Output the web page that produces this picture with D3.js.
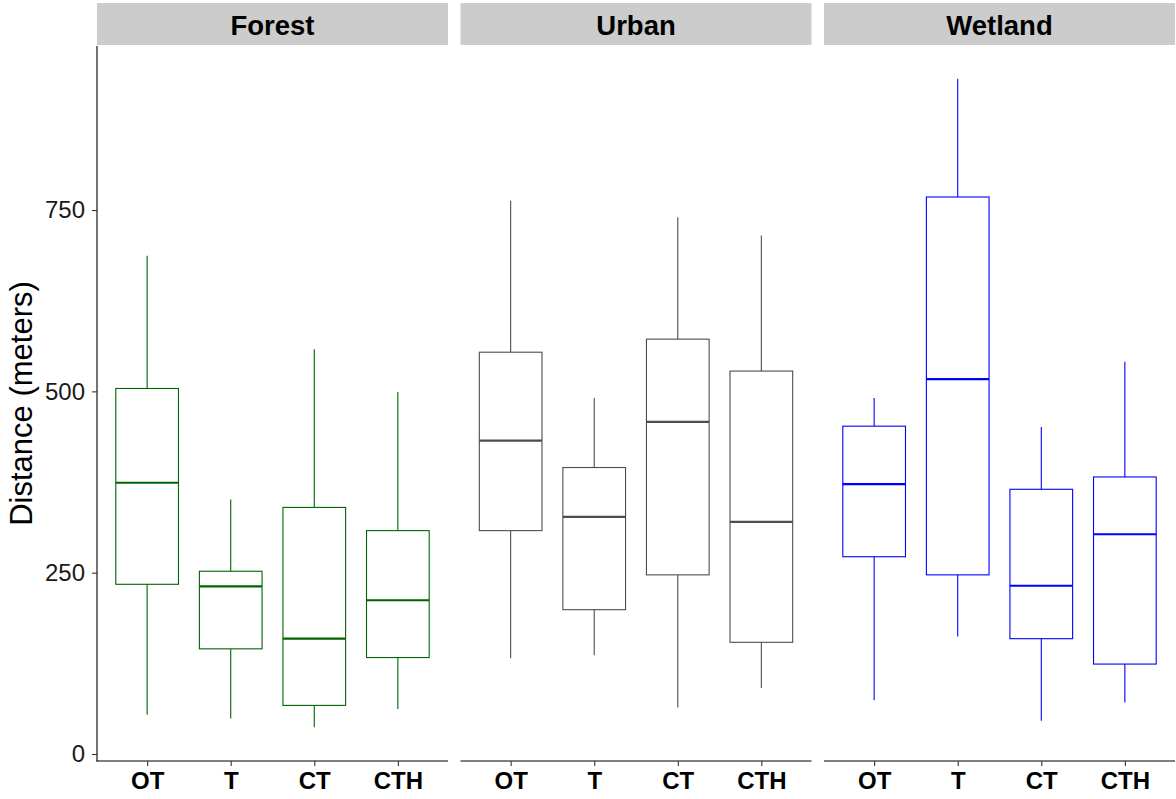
<!DOCTYPE html>
<html>
<head>
<meta charset="utf-8">
<script src="https://cdn.jsdelivr.net/npm/d3@7"></script>
<style>
  html, body { margin: 0; padding: 0; background: #ffffff; }
  svg { display: block; font-family: "Liberation Sans", Arial, sans-serif; }
</style>
</head>
<body>
<svg id="chart" width="1176" height="799"></svg>
<script>
// ---- data ----
const facets = ["Forest", "Urban", "Wetland"];
const categories = ["OT", "T", "CT", "CTH"];
const facetColors = ["#006400", "#4D4D4D", "#0000FF"];
const yTicks = [0, 250, 500, 750];
// per facet, per category (OT, T, CT, CTH)
const whiskerLow  = [[54, 49, 37, 62],   [132, 136, 64, 91],  [74, 162, 46, 71]];
const q1          = [[234, 145, 67, 133], [308, 199, 247, 154], [272, 247, 159, 124]];
const medians     = [[374, 231, 159, 212], [432, 327, 458, 320], [372, 517, 232, 303]];
const q3          = [[504, 252, 340, 308], [554, 395, 572, 528], [452, 768, 365, 382]];
const whiskerHigh = [[687, 351, 558, 499], [763, 491, 740, 715], [491, 931, 451, 541]];

// ---- layout ----
const svg = d3.select("#chart");
const panelLeft = 97, panelW = 351, gap = 12.5;
const stripTop = 3, stripBottom = 45;
const panelTop = 46, panelBottom = 761;

const y = d3.scaleLinear().domain([-9.65, 976.2]).range([panelBottom, panelTop]);
const facetX = d3.scaleBand().domain(facets)
  .range([panelLeft, panelLeft + 3 * panelW + 2 * gap])
  .paddingInner(gap / (panelW + gap)).paddingOuter(0);

// y axis
const yAxisG = svg.append("g").attr("transform", `translate(${panelLeft},0)`)
  .call(d3.axisLeft(y).tickValues(yTicks).tickSize(5).tickPadding(7));
yAxisG.select(".domain").attr("stroke", "#000").attr("stroke-width", 1.1)
  .attr("d", `M0,${panelTop}V${panelBottom + 0.5}`);
yAxisG.selectAll(".tick line").attr("stroke", "#333").attr("stroke-width", 1.1);
yAxisG.selectAll(".tick text").attr("fill", "#1a1a1a").attr("font-size", 24);

// y axis title
svg.append("text")
  .attr("transform", `translate(32,${(panelTop + panelBottom) / 2}) rotate(-90)`)
  .attr("text-anchor", "middle")
  .attr("font-size", 31)
  .attr("fill", "#000")
  .text("Distance (meters)");

facets.forEach((f, fi) => {
  const x0 = facetX(f);
  const w = facetX.bandwidth();
  const g = svg.append("g").attr("transform", `translate(${x0},0)`);

  // strip
  g.append("rect").attr("x", 0).attr("y", stripTop)
    .attr("width", w).attr("height", stripBottom - stripTop)
    .attr("fill", "#CCCCCC");
  g.append("text").attr("x", w / 2).attr("y", (stripTop + stripBottom) / 2 + 1)
    .attr("dy", "0.36em").attr("text-anchor", "middle")
    .attr("font-size", 27.5).attr("font-weight", "bold").attr("fill", "#000")
    .text(f);

  const x = d3.scalePoint().domain(categories).range([0, w]).padding(0.6);
  const boxW = x.step() * 0.75;
  const col = facetColors[fi];

  // x axis
  const xAxisG = g.append("g").attr("transform", `translate(0,${panelBottom})`)
    .call(d3.axisBottom(x).tickSize(5).tickPadding(6));
  xAxisG.select(".domain").attr("stroke", "#000").attr("stroke-width", 1.1)
    .attr("d", `M${fi === 0 ? -0.5 : 0},0H${w}`);
  xAxisG.selectAll(".tick line").attr("stroke", "#333").attr("stroke-width", 1.1);
  xAxisG.selectAll(".tick text").attr("fill", "#000").attr("font-size", 24)
    .attr("font-weight", "bold");

  const rows = categories.map((c, i) => ({
    c, lo: whiskerLow[fi][i], q1: q1[fi][i], med: medians[fi][i],
    q3: q3[fi][i], hi: whiskerHigh[fi][i]
  }));

  const bg = g.selectAll("g.box").data(rows).join("g").attr("class", "box");
  // whiskers
  bg.append("line")
    .attr("x1", d => x(d.c)).attr("x2", d => x(d.c))
    .attr("y1", d => y(d.hi)).attr("y2", d => y(d.q3))
    .attr("stroke", col).attr("stroke-width", 1.1);
  bg.append("line")
    .attr("x1", d => x(d.c)).attr("x2", d => x(d.c))
    .attr("y1", d => y(d.q1)).attr("y2", d => y(d.lo))
    .attr("stroke", col).attr("stroke-width", 1.1);
  // box
  bg.append("rect")
    .attr("x", d => x(d.c) - boxW / 2).attr("width", boxW)
    .attr("y", d => y(d.q3)).attr("height", d => y(d.q1) - y(d.q3))
    .attr("fill", "#fff").attr("stroke", col).attr("stroke-width", 1.1);
  // median
  bg.append("line")
    .attr("x1", d => x(d.c) - boxW / 2).attr("x2", d => x(d.c) + boxW / 2)
    .attr("y1", d => y(d.med)).attr("y2", d => y(d.med))
    .attr("stroke", col).attr("stroke-width", 2.2);
});
</script>
</body>
</html>
